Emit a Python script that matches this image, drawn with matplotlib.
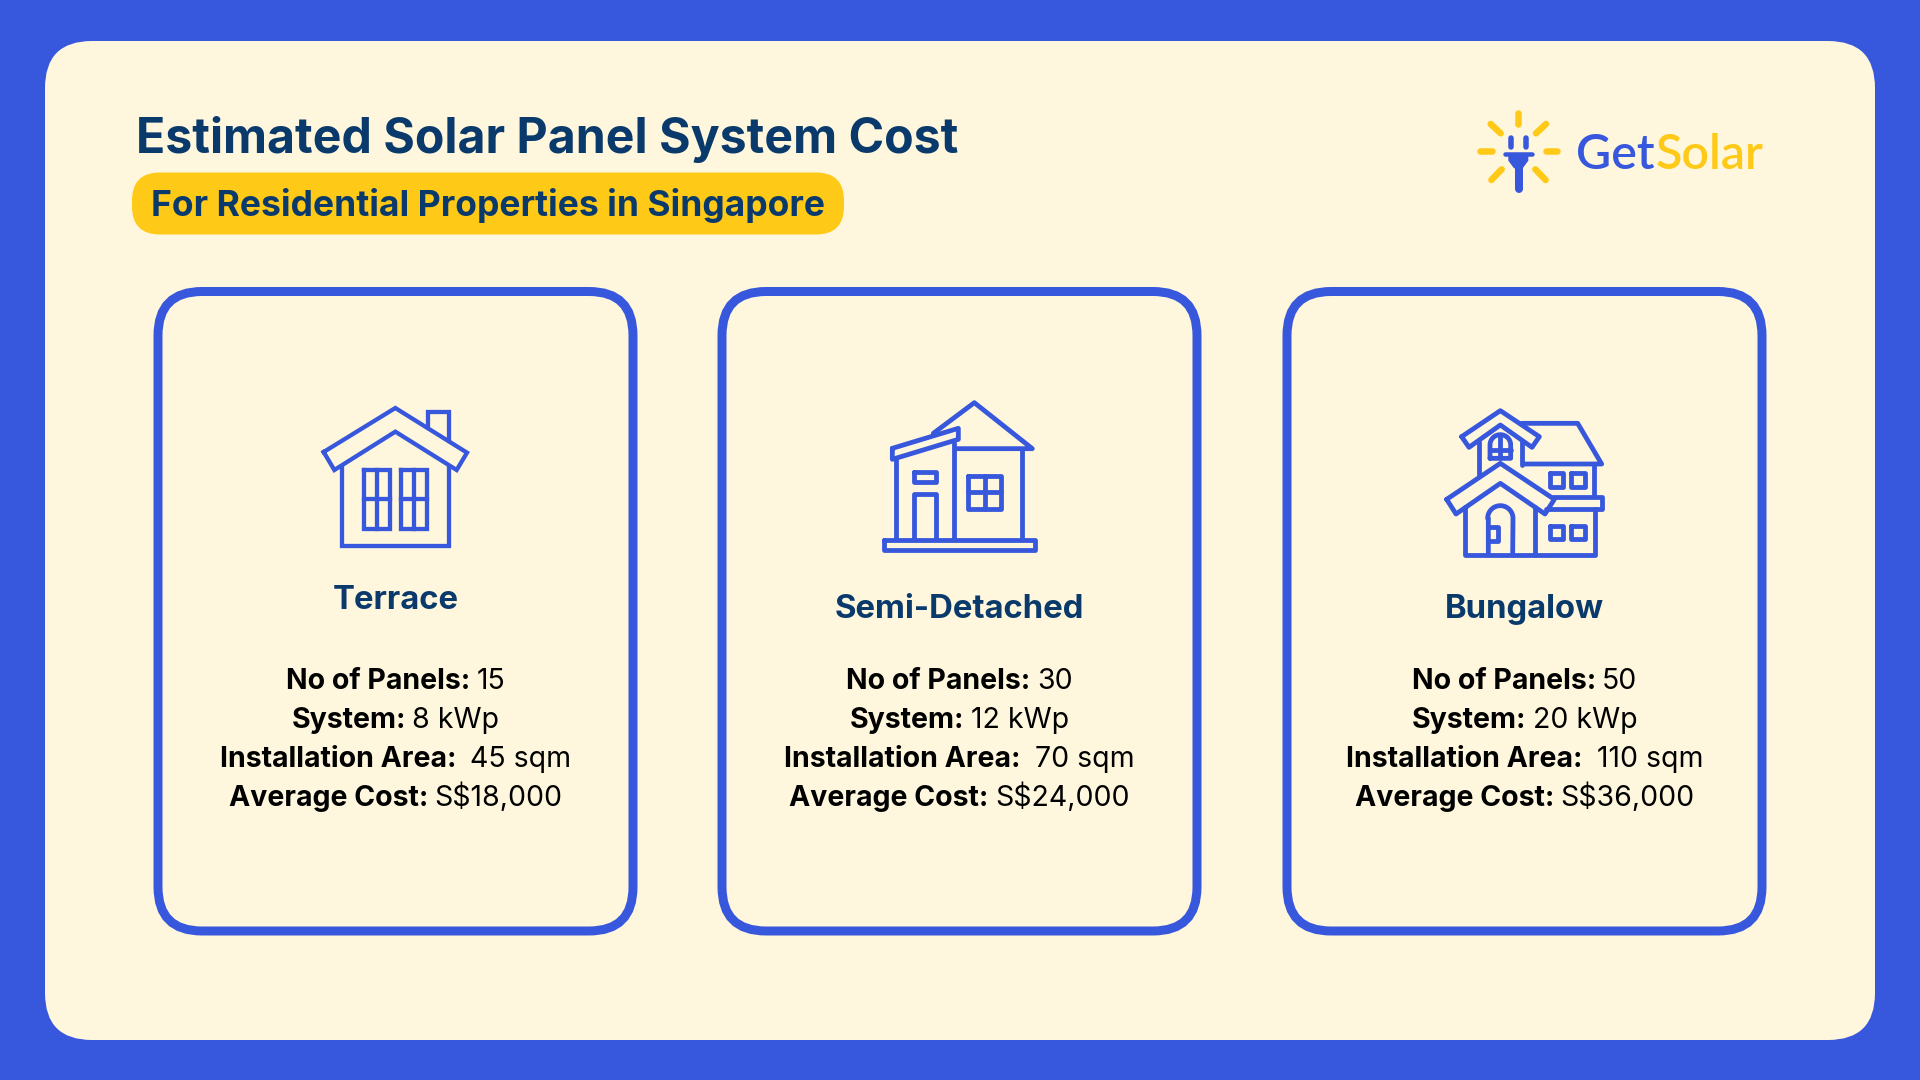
import numpy as np
import matplotlib
matplotlib.use('Agg')
import matplotlib.pyplot as plt
from matplotlib.patches import FancyBboxPatch, Polygon

BLUE = '#3757DC'
CREAM = '#FFF7DD'
NAVY = '#0A3A6B'
YELLOW = '#FFC917'

property_types = ['Terrace', 'Semi-Detached', 'Bungalow']
no_of_panels = [15, 30, 50]
system_kwp = [8, 12, 20]
install_area = [45, 70, 110]
avg_cost = [18000, 24000, 36000]

plt.rcParams['font.family'] = ['Inter', 'DejaVu Sans']

fig = plt.figure(figsize=(19.2, 10.8), dpi=100, facecolor=BLUE)
ax = fig.add_axes([0, 0, 1, 1])
ax.set_xlim(0, 1920)
ax.set_ylim(1080, 0)
ax.axis('off')


def round_box(x0, y0, x1, y1, r, **kw):
    ax.add_patch(FancyBboxPatch((x0, y0), x1 - x0, y1 - y0,
                                boxstyle='round,pad=0,rounding_size={}'.format(r), **kw))


# icon paths are in 3x zoom coordinates, offset is the crop corner
def line(pts, off, closed=False, color=BLUE, lw=4.8, joint='round'):
    pts = np.array(pts, dtype=float) / 3 + off
    if closed:
        pts = np.vstack([pts, pts[0]])
    ax.plot(pts[:, 0], pts[:, 1], color=color, lw=lw * 0.72,
            solid_joinstyle=joint, solid_capstyle='round' if joint == 'round' else 'projecting')


def rect(x0, y0, x1, y1, off, **kw):
    line([(x0, y0), (x1, y0), (x1, y1), (x0, y1)], off, closed=True, **kw)


def arc(cx, cy, r):
    t = np.linspace(np.pi, 2 * np.pi, 30)
    return list(zip(cx + r * np.cos(t), cy + r * np.sin(t)))


def terrace_icon():
    off = (280, 380)
    kw = dict(joint='miter', lw=4.3)
    line([(131, 216), (346, 84), (561, 218), (530, 270), (346, 155), (163, 270)], off, closed=True, **kw)
    line([(185, 262), (185, 497), (507, 497), (507, 262)], off, **kw)
    line([(443, 135), (443, 96), (507, 96), (507, 176)], off, **kw)
    for x0, x1 in [(253, 330), (362, 440)]:
        rect(x0, 271, x1, 446, off, **kw)
        line([((x0 + x1) / 2, 271), ((x0 + x1) / 2, 446)], off, **kw)
        line([(x0, 358), (x1, 358)], off, **kw)


def semi_icon():
    off = (860, 380)
    rect(72, 480, 525, 510, off)
    line([(108, 240), (108, 478)], off)
    line([(283, 190), (283, 478)], off)
    line([(485, 208), (485, 478)], off)
    line([(97, 205), (295, 145), (295, 178), (97, 238)], off, closed=True)
    line([(220, 160), (343, 68), (517, 206), (285, 206)], off)
    rect(162, 275, 227, 305, off)
    line([(162, 478), (162, 342), (227, 342), (227, 478)], off)
    rect(325, 288, 423, 387, off)
    line([(374, 288), (374, 387)], off)
    line([(325, 337), (423, 337)], off)


def bungalow_icon():
    off = (1420, 390)
    line([(125, 140), (241, 62), (358, 140), (336, 172), (241, 105), (147, 172)], off, closed=True)
    line([(177, 155), (177, 255)], off)
    line([(306, 155), (306, 225)], off)
    line([(210, 205)] + arc(241, 165, 31) + [(272, 205)], off, closed=True)
    line([(241, 135), (241, 205)], off)
    line([(210, 180), (272, 180)], off)
    line([(305, 100), (473, 100), (545, 222), (310, 222)], off)
    line([(523, 222), (523, 318)], off)
    line([(80, 328), (241, 220), (403, 328), (375, 372), (241, 280), (108, 372)], off, closed=True)
    line([(400, 320), (545, 320), (545, 358), (378, 358)], off)
    line([(136, 350), (136, 495), (525, 495), (525, 358)], off)
    line([(346, 350), (346, 495)], off)
    line([(205, 495), (205, 385)] + arc(241, 385, 38) + [(278, 495)], off)
    line([(205, 412), (233, 412), (233, 452), (205, 452)], off)
    for x0, x1 in [(390, 430), (453, 495)]:
        rect(x0, 250, x1, 290, off)
        rect(x0, 407, x1, 447, off)


def logo():
    off = (1460, 100)
    rays = [((175, 38), (175, 72)), ((60, 152), (95, 152)), ((257, 152), (292, 152)),
            ((92, 72), (122, 100)), ((258, 72), (228, 100)),
            ((94, 240), (125, 208)), ((257, 240), (226, 208))]
    for a, b in rays:
        line([a, b], off, color=YELLOW, lw=6.5)
    line([(152, 115), (152, 140)], off, lw=5.5)
    line([(198, 115), (198, 140)], off, lw=5.5)
    line([(135, 163), (215, 163)], off, lw=4.5)
    pts = np.array([(145, 163), (205, 163), (205, 182), (188, 205), (162, 205), (145, 182)]) / 3 + off
    ax.add_patch(Polygon(pts, closed=True, color=BLUE, lw=0))
    line([(176, 205), (176, 268)], off, lw=8)
    r = fig.canvas.get_renderer()
    get = ax.text(1576, 169, 'Get', fontsize=34.8, fontweight='semibold', color=BLUE,
                  va='baseline', family='Lato')
    w = get.get_window_extent(r).width
    ax.text(1576 + w + 1, 169, 'Solar', fontsize=34.8, fontweight='semibold', color=YELLOW,
            va='baseline', family='Lato')


# one centred line, bold part then regular part
def stat_line(cx, y, bold, regular, size=20.5):
    r = fig.canvas.get_renderer()
    t1 = ax.text(0, y, bold, fontsize=size, fontweight='bold', color='black', va='baseline')
    t2 = ax.text(0, y, regular, fontsize=size, color='black', va='baseline')
    w1 = t1.get_window_extent(r).width
    w2 = t2.get_window_extent(r).width
    gap = size * 0.3
    left = cx - (w1 + gap + w2) / 2
    t1.set_x(left)
    t2.set_x(left + w1 + gap)


round_box(45, 41, 1875, 1040, 47, fc=CREAM, ec='none')

ax.text(136, 153, 'Estimated Solar Panel System Cost', fontsize=34.75, fontweight='bold',
        color=NAVY, va='baseline')
round_box(132, 172.5, 844, 234.5, 28, fc=YELLOW, ec='none')
ax.text(151, 216, 'For Residential Properties in Singapore', fontsize=25.55, fontweight='bold',
        color=NAVY, va='baseline')

logo()

card_x = [(158, 633), (722, 1197), (1287, 1762)]
label_y = [609, 618, 618]
for i, (x0, x1) in enumerate(card_x):
    round_box(x0, 291.5, x1, 931, 44, fc='none', ec=BLUE, lw=9 * 0.72)
    cx = (x0 + x1) / 2
    ax.text(cx, label_y[i], property_types[i], fontsize=23.7, fontweight='bold', color=NAVY,
            ha='center', va='baseline')
    stat_line(cx, 688.8, 'No of Panels:', str(no_of_panels[i]))
    stat_line(cx, 727.5, 'System:', '{} kWp'.format(system_kwp[i]))
    stat_line(cx, 766.6, 'Installation Area:', ' {} sqm'.format(install_area[i]))
    stat_line(cx, 805.7, 'Average Cost:', 'S${:,}'.format(avg_cost[i]))

terrace_icon()
semi_icon()
bungalow_icon()

fig.savefig('out.png', dpi=100, facecolor=BLUE)
